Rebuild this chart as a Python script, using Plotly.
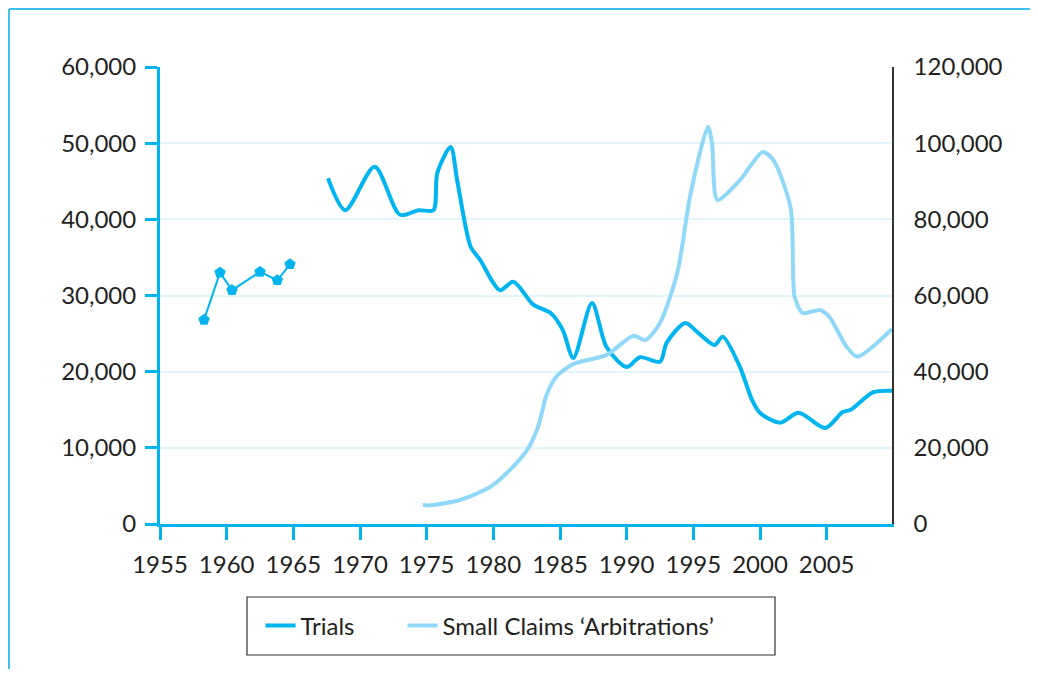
import plotly.graph_objects as go

# Trials, early years (with markers)
early_years = [1958.3, 1959.5, 1960.4, 1962.5, 1963.8, 1964.75]
early_trials = [26800, 33000, 30700, 33100, 32000, 34100]

# Trials, main series
trial_years = [1967.6, 1968.9, 1971.1, 1973.0, 1974.4, 1975.5, 1975.8, 1976.8, 1977.3,
               1978.3, 1979.0, 1980.5, 1981.5, 1983.0, 1984.3, 1985.2, 1986.0, 1987.4,
               1988.5, 1990.0, 1991.0, 1992.5, 1993.0, 1994.4, 1995.3, 1996.6, 1997.2,
               1998.5, 1999.4, 2000.0, 2001.5, 2002.9, 2004.9, 2006.2, 2006.8, 2008.5, 2009.9]
trials = [45400, 41200, 46900, 40600, 41200, 41200, 46100, 49500, 45000,
          36400, 34700, 30700, 31800, 28800, 27700, 25500, 21800, 29000,
          23200, 20600, 21900, 21300, 23800, 26400, 25200, 23500, 24600,
          20600, 16300, 14600, 13300, 14600, 12600, 14700, 15000, 17300, 17500]

# Small claims 'arbitrations' (right axis)
sc_years = [1974.7, 1975.3, 1977.5, 1979.75, 1981.25, 1982.6, 1983.4, 1984.0, 1984.8,
            1986.0, 1988.5, 1990.5, 1991.4, 1992.5, 1993.8, 1994.8, 1996.1,
            1996.4, 1996.8, 1998.5, 2000.2, 2001.0, 2002.3, 2002.6, 2003.2, 2004.5,
            2005.2, 2006.5, 2007.3, 2009.9]
small_claims = [5000, 4900, 6300, 9700, 14200, 19800, 26000, 34000, 39000,
                42000, 44400, 49400, 48300, 52800, 66000, 86900, 104300,
                100000, 85100, 90300, 97700, 95600, 83000, 59600, 55400, 56200,
                54400, 46500, 43900, 51200]

x_ticks = [1955, 1960, 1965, 1970, 1975, 1980, 1985, 1990, 1995, 2000, 2005]
left_ticks = [0, 10000, 20000, 30000, 40000, 50000, 60000]
right_ticks = [0, 20000, 40000, 60000, 80000, 100000, 120000]

TRIAL_COL = '#00B5EF'
SC_COL = '#8FD8F8'
TEXT_COL = '#231F20'
FRAME_COL = '#3DBFF0'
FONT = 'Lato'


# page pixel -> paper coordinates (plot area spans 160..892 x 67..524 on the page)
def px(x):
    return (x - 160) / 732


def py(y):
    return (524 - y) / 457


fig = go.Figure()
fig.add_trace(go.Scatter(x=early_years, y=early_trials, mode='lines+markers',
                         line=dict(color=TRIAL_COL, width=2),
                         marker=dict(symbol='pentagon', size=12, color=TRIAL_COL),
                         legendgroup='t', showlegend=False))
# trailing no-break spaces widen the first legend entry like in the original
fig.add_trace(go.Scatter(x=trial_years, y=trials, mode='lines', name='Trials' + '\u00a0' * 7,
                         line=dict(color=TRIAL_COL, width=4, shape='spline', smoothing=0.8),
                         legendgroup='t'))
fig.add_trace(go.Scatter(x=sc_years, y=small_claims, mode='lines',
                         name='Small Claims \u2018Arbitrations\u2019',
                         line=dict(color=SC_COL, width=4, shape='spline', smoothing=0.7),
                         yaxis='y2'))

# the page adds an 8px body margin, so the figure is a bit smaller than the window
fig.update_layout(
    width=1022, height=661,
    margin=dict(l=152, r=138, t=59, b=145),
    paper_bgcolor='white', plot_bgcolor='white',
    font=dict(family=FONT, size=24, color=TEXT_COL),
    xaxis=dict(range=[1955, 2009.9], tickvals=x_ticks, showgrid=False, zeroline=False,
               showline=True, linecolor=TRIAL_COL, linewidth=3,
               ticks='outside', ticklen=13, tickwidth=3, tickcolor=TRIAL_COL,
               ticklabelstandoff=4),
    yaxis=dict(range=[0, 60000], tickvals=left_ticks, tickformat=',d',
               showgrid=True, gridcolor='#E2F4FC', gridwidth=2, zeroline=False,
               showline=True, linecolor=TRIAL_COL, linewidth=3,
               ticks='outside', ticklen=12, tickwidth=3, tickcolor=TRIAL_COL,
               ticklabelstandoff=4),
    yaxis2=dict(range=[0, 120000], tickvals=right_ticks, tickformat=',d',
                overlaying='y', side='right', showgrid=False, zeroline=False,
                showline=True, linecolor='#333333', linewidth=1.5, ticks='',
                ticklabelstandoff=15),
    showlegend=True,
    legend=dict(orientation='h', x=px(490), xanchor='center', y=py(626), yanchor='middle',
                borderwidth=0, font=dict(size=24, color=TEXT_COL),
                bgcolor='rgba(0,0,0,0)'),
)

# legend box
fig.add_shape(type='rect', xref='paper', yref='paper',
              x0=px(247), x1=px(775), y0=py(597), y1=py(655),
              line=dict(color='#333333', width=1.2), layer='below')

# outer frame (top and left edges)
fig.add_shape(type='line', xref='paper', yref='paper',
              x0=px(9), x1=px(1040), y0=py(9), y1=py(9),
              line=dict(color=FRAME_COL, width=2))
fig.add_shape(type='line', xref='paper', yref='paper',
              x0=px(9), x1=px(9), y0=py(9), y1=py(680),
              line=dict(color=FRAME_COL, width=2))

fig.write_html("out.html")
